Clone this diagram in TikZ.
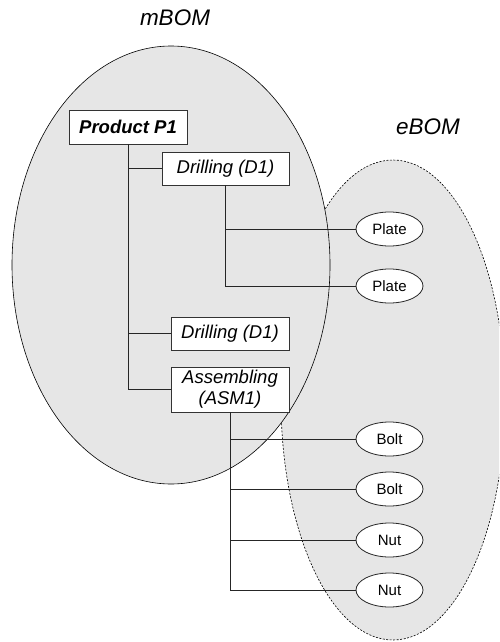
\documentclass[tikz,border=0pt]{standalone}
\usepackage{fontspec}
\setmainfont{Liberation Sans}
\usetikzlibrary{shapes.geometric}
\definecolor{bomgray}{HTML}{E6E6E6}
\begin{document}
\begin{tikzpicture}[x=1pt,y=-1pt,
 boxnode/.style={draw=black!80, fill=white, line width=0.8pt, inner sep=0pt, align=center, font=\fontsize{18.5}{21}\selectfont\itshape},
 partnode/.style={ellipse, draw=black!85, fill=white, line width=0.8pt, minimum width=67pt, minimum height=34pt, inner sep=0pt, font=\fontsize{15}{17}\selectfont},
 link/.style={draw=black!85, line width=0.8pt},
 bomlabel/.style={font=\fontsize{22.5}{26}\selectfont\itshape},
 region/.style={fill=bomgray, draw=black, line width=0.6pt}]
\useasboundingbox (0,0) rectangle (499,642);
\clip (0,0) rectangle (499,642);
\draw[region, dash pattern=on 2pt off 1.5pt] (393,400) ellipse [x radius=112, y radius=240];
\draw[region] (171,265) ellipse [x radius=159, y radius=219];

\node[bomlabel] (mlabel) at (175,18) {mBOM};
\node[bomlabel] (elabel) at (428,127) {eBOM};

\node[boxnode, minimum width=118pt, minimum height=34pt, font=\fontsize{18.5}{21}\selectfont\bfseries\itshape] (p1) at (128,127) {Product P1};
\node[boxnode, minimum width=127pt, minimum height=33pt] (d1) at (225.5,168.5) {Drilling (D1)};
\node[boxnode, minimum width=118pt, minimum height=33pt] (d2) at (230,333.5) {Drilling (D1)};
\node[boxnode, minimum width=118pt, minimum height=45pt] (asm) at (230,389.5) {Assembling\\(ASM1)};

\node[partnode] (plate1) at (389.5,229) {Plate};
\node[partnode] (plate2) at (389.5,286) {Plate};
\node[partnode] (bolt1) at (389.5,439) {Bolt};
\node[partnode] (bolt2) at (389.5,489) {Bolt};
\node[partnode] (nut1) at (389.5,540) {Nut};
\node[partnode] (nut2) at (389.5,590) {Nut};

\draw[link] (p1.south) |- (d1.west);
\draw[link] (p1.south) |- (d2.west);
\draw[link] (p1.south) |- (asm.west);
\draw[link] (d1.south) |- (plate1.west);
\draw[link] (d1.south) |- (plate2.west);
\draw[link] (asm.south) |- (bolt1.west);
\draw[link] (asm.south) |- (bolt2.west);
\draw[link] (asm.south) |- (nut1.west);
\draw[link] (asm.south) |- (nut2.west);
\end{tikzpicture}
\end{document}
